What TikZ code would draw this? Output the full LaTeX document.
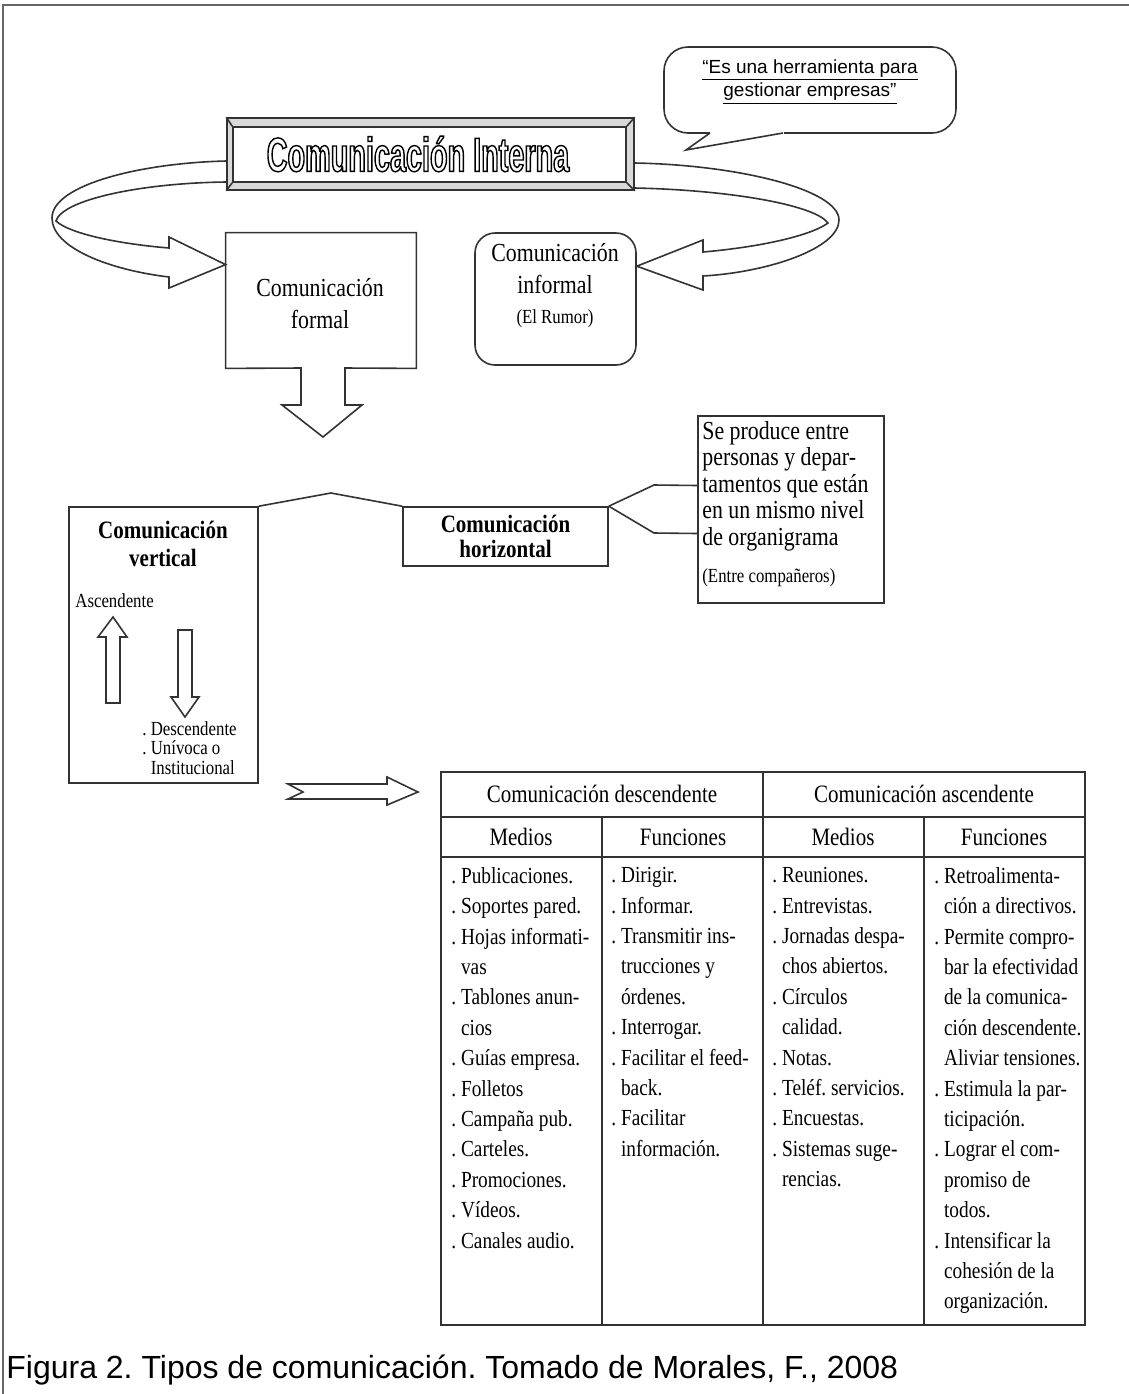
\documentclass[tikz,border=0pt]{standalone}
\usepackage{fontspec}
\setmainfont{Liberation Serif}[FakeStretch=0.84]
\newfontfamily\sansfnt{Liberation Sans}
\newfontfamily\titlefnt{Liberation Sans}[FakeStretch=0.6]
\usetikzlibrary{calc}
\frenchspacing
\newcommand{\cont}{\hphantom{.\ }}
\newcommand{\hollowtxt}[1]{\special{pdf:literal direct 1 Tr 0.7 w}#1\special{pdf:literal direct 0 Tr}}

\begin{document}
\begin{tikzpicture}[x=0.5pt,y=-0.5pt,
		every node/.style={inner sep=0pt},
		line/.style={draw=black!80,line width=0.8pt,line join=miter},
		box/.style={line,rectangle},
		hollow/.style={line,fill=white},
		body/.style={anchor=north west,align=left,font=\fontsize{11.5}{15.2}\selectfont},
		colhead/.style={font=\fontsize{12.5}{15}\selectfont}]
		\useasboundingbox (0,0) rectangle (1129,1394);
		\draw[black!60,line width=0.8pt] (3,1394) -- (3,5) -- (1129,5);

		% speech bubble
		\node[box,rounded corners=12pt,minimum width=146pt,minimum height=43pt] (bubble) at (810,90) {};
		\fill[white] (710,130) rectangle (784,136);
		\draw[line] (710,133) -- (686,150) -- (783,133);
		\node[align=center,font=\sansfnt\fontsize{9.5}{10}\selectfont] (quote) at (810,82)
			{\underline{“Es una herramienta para}\\\underline{gestionar empresas”}};

		% title
		\node[box,fill=gray!30,minimum width=203.5pt,minimum height=36pt] (title) at (430.5,154) {};
		\node[box,fill=white,minimum width=196.5pt,minimum height=27.5pt] (titlein) at (429.5,154.5) {};
		\foreach \c in {north west,north east,south west,south east}
			\draw[line] (title.\c) -- (titlein.\c);
		\node[font=\titlefnt\bfseries\fontsize{24}{24}\selectfont] (titletxt) at (418,154)
			{\hollowtxt{Comunicación Interna}};

		\node[minimum width=95pt,minimum height=67.5pt] (formal) at (321,300.5) {};
		\node[align=center,font=\fontsize{13}{16}\selectfont] (formaltxt) at (320,304) {Comunicación\\formal};
		\draw[line] (301,368) -- (formal.south west) -- (formal.north west) -- (formal.north east)
			-- (formal.south east) -- (345,368) -- (345,405) -- (362,405) -- (323,437) -- (282,405) -- (301,405) -- cycle;

		\node[box,rounded corners=10pt,minimum width=80.5pt,minimum height=66pt] (informal) at (555.5,299) {};
		\node[align=center,font=\fontsize{13}{16}\selectfont] (informaltxt) at (555,286)
			{Comunicación\\informal\\[-1pt]{\fontsize{10}{12}\selectfont(El Rumor)}};

		% ring round the title
		\coordinate (fl) at ($(formal.north west)+(0,32)$);
		\coordinate (fr) at ($(informal.north east)+(0,34)$);
		\draw[line] (title.west |- 0,161) .. controls (140,163) and (52,185) .. (52,218)
			.. controls (52,248) and (110,270) .. (169,277) -- (169,288) -- (fl) -- (169,237) -- (169,248)
			.. controls (120,244) and (70,234) .. (56,221) .. controls (62,200) and (140,183) .. (title.west |- 0,182);
		\draw[line] (title.east |- 0,163) .. controls (740,165) and (839,190) .. (839,220)
			.. controls (839,248) and (770,272) .. (703,276) -- (703,290) -- (fr) -- (703,240) -- (703,252)
			.. controls (760,247) and (810,236) .. (828,223) .. controls (815,205) and (730,190) .. (title.east |- 0,188);

		% vertical / horizontal
		\node[box,minimum width=94.5pt,minimum height=138pt] (vert) at (163.5,645) {};
		\node[align=center,font=\bfseries\fontsize{12.5}{14}\selectfont] (verttxt) at (163,544) {Comunicación\\vertical};
		\node[anchor=west,font=\fontsize{10}{12}\selectfont] (asc) at (75,601) {Ascendente};
		\draw[hollow] (106,703) -- (106,637) -- (98,637) -- (113,617) -- (127,637) -- (120,637) -- (120,703) -- cycle;
		\draw[hollow] (178,630) -- (178,697) -- (171,697) -- (185,717) -- (199,697) -- (192,697) -- (192,630) -- cycle;
		\node[anchor=north west,align=left,font=\fontsize{10}{9.75}\selectfont] (descn) at (142,721)
			{. Descendente\\. Unívoca o\\\cont Institucional};

		\node[box,minimum width=102.5pt,minimum height=29.5pt,align=center,
			font=\bfseries\fontsize{12.5}{12.5}\selectfont] (horiz) at (505.5,536.5) {Comunicación\\horizontal};
		\draw[line] (vert.north east) -- (331,493) -- (horiz.north west);

		\node[box,minimum width=93pt,minimum height=93.5pt] (prod) at (791,509.5) {};
		\node[anchor=north west,align=left,font=\fontsize{13}{13.25}\selectfont] (prodtxt) at (702,421)
			{Se produce entre\\personas y depar-\\tamentos que están\\en un mismo nivel\\de organigrama};
		\node[anchor=west,font=\fontsize{10}{12}\selectfont] (prodnote) at (702,578) {(Entre compañeros)};
		\draw[line] (horiz.north east) -- (654,485) -- ($(prod.west)+(0,-24)$);
		\draw[line] (horiz.north east) -- (654,533) -- ($(prod.west)+(0,24)$);

		\draw[hollow] (288,784) -- (387,784) -- (387,777) -- (418,792) -- (387,805) -- (387,799) -- (288,799) -- (303,792) -- cycle;

		% table
		\node[box,minimum width=322pt,minimum height=276.5pt] (tbl) at (763,1048.5) {};
		\draw[line] (tbl.west |- 0,817) -- (tbl.east |- 0,817);
		\draw[line] (tbl.west |- 0,857) -- (tbl.east |- 0,857);
		\draw[line] (tbl.north) -- (tbl.south);
		\foreach \x in {602,924}
			\draw[line] (\x,817) -- (\x,1325);
		\node[colhead] (hdesc) at (602,794) {Comunicación descendente};
		\node[colhead] (hasc) at (924,794) {Comunicación ascendente};
		\node[colhead] (m1) at (521,837) {Medios};
		\node[colhead] (f1) at (683,837) {Funciones};
		\node[colhead] (m2) at (843,837) {Medios};
		\node[colhead] (f2) at (1004,837) {Funciones};

		\node[body] (col1) at (451,867) {. Publicaciones.\\. Soportes pared.\\. Hojas informati-\\\cont vas\\. Tablones anun-\\\cont cios\\
			. Guías empresa.\\. Folletos\\. Campaña pub.\\. Carteles.\\. Promociones.\\. Vídeos.\\. Canales audio.};
		\node[body] (col2) at (611,867) {. Dirigir.\\. Informar.\\. Transmitir ins-\\\cont trucciones y\\\cont órdenes.\\. Interrogar.\\
			. Facilitar el feed-\\\cont back.\\. Facilitar\\\cont información.};
		\node[body] (col3) at (772,867) {. Reuniones.\\. Entrevistas.\\. Jornadas despa-\\\cont chos abiertos.\\. Círculos\\\cont calidad.\\
			. Notas.\\. Teléf. servicios.\\. Encuestas.\\. Sistemas suge-\\\cont rencias.};
		\node[body] (col4) at (934,867) {. Retroalimenta-\\\cont ción a directivos.\\. Permite compro-\\\cont bar la efectividad\\
			\cont de la comunica-\\\cont ción descendente.\\\cont Aliviar tensiones.\\. Estimula la par-\\\cont ticipación.\\
			. Lograr el com-\\\cont promiso de\\\cont todos.\\. Intensificar la\\\cont cohesión de la\\\cont organización.};

		\node[anchor=base west,font=\sansfnt\fontsize{16}{19}\selectfont] (caption) at (6,1378)
			{Figura 2. Tipos de comunicación. Tomado de Morales, F., 2008};
	\end{tikzpicture}
\end{document}
